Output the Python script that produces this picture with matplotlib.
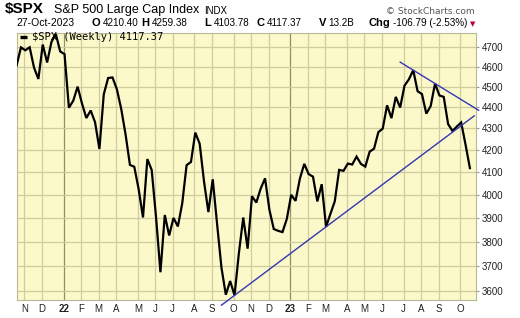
import numpy as np
import matplotlib
matplotlib.use("Agg")
import matplotlib.pyplot as plt
import pandas as pd

# weekly closes, 29-Oct-2021 .. 27-Oct-2023
closes = [
    4605.38, 4697.53, 4682.85, 4697.96, 4594.62, 4538.43, 4712.02, 4620.64, 4725.79, 4766.18,
    # 2022
    4677.03, 4662.85, 4397.94, 4431.85, 4500.53, 4418.64, 4348.87, 4384.65, 4328.87, 4204.31,
    4463.12, 4543.06, 4545.86, 4488.28, 4392.59, 4271.78, 4131.93, 4123.34, 4023.89, 3901.36,
    4158.24, 4108.54, 3900.86, 3674.84, 3911.74, 3825.33, 3899.38, 3863.16, 3961.63, 4130.29,
    4145.19, 4280.15, 4228.48, 4057.66, 3924.26, 4067.36, 3873.33, 3693.23, 3585.62, 3639.66,
    3583.07, 3752.75, 3901.06, 3770.55, 3992.93, 3965.34, 4026.12, 4071.70, 3934.38, 3852.36,
    3844.82, 3839.50,
    # 2023
    3895.08, 3999.09, 3972.61, 4070.56, 4136.48, 4090.46, 4079.09, 3970.04, 4045.64, 3861.59,
    3916.64, 3970.99, 4109.31, 4105.02, 4137.64, 4133.52, 4169.48, 4136.25, 4124.08, 4191.98,
    4205.45, 4282.37, 4298.86, 4409.59, 4348.33, 4450.38, 4398.95, 4505.42, 4536.34, 4582.23,
    4478.03, 4464.05, 4369.71, 4405.71, 4515.77, 4457.49, 4450.32, 4320.06, 4288.05, 4308.50,
    4327.78, 4224.16, 4117.37,
]
dates = pd.date_range("2021-10-29", periods=len(closes), freq="7D")

# trend lines: two anchor weeks each, and the span they are drawn over
support_anchors = ["2022-10-14", "2023-03-10"]
support_span = ["2022-09-23", "2023-11-03"]
resist_anchors = ["2023-07-28", "2023-09-01"]
resist_span = ["2023-07-07", "2023-11-10"]

yticks = [3600, 3700, 3800, 3900, 4000, 4100, 4200, 4300, 4400, 4500, 4600, 4700]

header_vals = [("O", "4210.40"), ("H", "4259.38"), ("L", "4103.78"), ("C", "4117.37"),
               ("V", "13.2B"), ("Chg", "-106.79 (-2.53%)")]

BG = "#fbf9c9"
GRID = "#cfcca0"
YEARGRID = "#8f8f6c"
BLUE = "#3535b5"


def widx(d):
    # fractional week index of a date
    return (pd.Timestamp(d) - dates[0]).days / 7.0


def trend(anchors, span):
    i0, i1 = widx(anchors[0]), widx(anchors[1])
    p0 = closes[int(round(i0))]
    p1 = closes[int(round(i1))]
    k = (np.log(p1) - np.log(p0)) / (i1 - i0)
    xs = np.array([widx(span[0]), widx(span[1])])
    return xs, np.exp(np.log(p0) + k * (xs - i0))


fig = plt.figure(figsize=(5.2, 3.18), dpi=100)
fig.patch.set_facecolor("white")
ax = fig.add_axes([16.6 / 520, 18 / 318, (476 - 16.6) / 520, (300 - 33) / 318])
ax.set_facecolor(BG)

x = np.arange(len(closes))
ax.set_yscale("log")
ax.set_ylim(3565, 4772)
ax.set_xlim(0, 105.4)

# month grid at first bar of each month
months = pd.Series(dates).dt.to_period("M")
first = [i for i in range(1, len(dates)) if months[i] != months[i - 1]]
tick_pos, tick_lab = [], []
for i in first:
    d = dates[i]
    tick_pos.append(i + 0.8)
    tick_lab.append(d.strftime("%y") if d.month == 1 else d.strftime("%b")[0])
for p, lab in zip(tick_pos, tick_lab):
    ax.axvline(p, color=YEARGRID if lab.isdigit() else GRID, lw=0.9, zorder=1)
for v in yticks:
    ax.axhline(v, color=GRID, lw=0.9, zorder=1)

ax.set_xticks(tick_pos)
ax.set_xticklabels(tick_lab)
for t in ax.get_xticklabels():
    if t.get_text().isdigit():
        t.set_fontweight("bold")
        t.set_fontsize(8.5)
ax.tick_params(axis="x", length=0, pad=3, labelsize=7, labelcolor="#222222")
ax.yaxis.tick_right()
ax.set_yticks(yticks)
ax.set_yticklabels([str(v) for v in yticks])
ax.yaxis.set_minor_locator(matplotlib.ticker.NullLocator())
ax.tick_params(axis="y", length=2, pad=2, labelsize=7, labelcolor="#222222", color="#999988")
for lab in ax.get_xticklabels() + ax.get_yticklabels():
    lab.set_family("Liberation Sans")
for s in ax.spines.values():
    s.set_color("#b8b898")
    s.set_linewidth(0.8)

ax.plot(x, closes, color="black", lw=1.6, zorder=3, solid_joinstyle="miter")

xs, ys = trend(support_anchors, support_span)
ax.plot(xs, ys, color=BLUE, lw=1.0, zorder=4, clip_on=False)
xs, ys = trend(resist_anchors, resist_span)
ax.plot(xs, ys, color=BLUE, lw=1.0, zorder=4, clip_on=False)

# legend inside the plot
ax.plot([0.008, 0.023], [0.985, 0.985], transform=ax.transAxes, color="black", lw=2.4,
        solid_capstyle="butt", zorder=5)
ax.text(0.033, 0.984, "$SPX (Weekly) %.2f" % closes[-1], transform=ax.transAxes,
        va="center", ha="left", fontsize=7.5, family="DejaVu Sans Mono", zorder=5)


# header
def fx(px):
    return px / 520


def fy(py):
    return 1 - py / 318


fig.text(fx(4.5), fy(13.5), "$SPX", fontsize=11, fontweight="bold", family="Liberation Sans")
fig.text(fx(54), fy(13.5), "S&P 500 Large Cap Index", fontsize=9, family="Liberation Sans")
fig.text(fx(204), fy(13.5), "INDX", fontsize=7, family="Liberation Sans")
fig.text(fx(475), fy(13.5), "\u00a9 StockCharts.com", fontsize=6.5, family="DejaVu Sans",
         ha="right", color="#555555")
fig.text(fx(16), fy(26.5), dates[-1].strftime("%d-%b-%Y"), fontsize=7.5,
         family="Liberation Sans")

val_x = [102.5, 152, 213.5, 267, 328.5, 393]
for (lab, val), vx in zip(header_vals, val_x):
    fig.text(fx(vx - 2.5), fy(26.5), lab, fontsize=8, fontweight="bold",
             family="Liberation Sans", ha="right")
    fig.text(fx(vx), fy(26.5), val, fontsize=7.1, family="Liberation Sans")
fig.text(fx(475), fy(26.5), "\u25bc", fontsize=5, color="#c0003a", family="DejaVu Sans",
         ha="right")

fig.savefig("out.png", dpi=100, facecolor="white")
